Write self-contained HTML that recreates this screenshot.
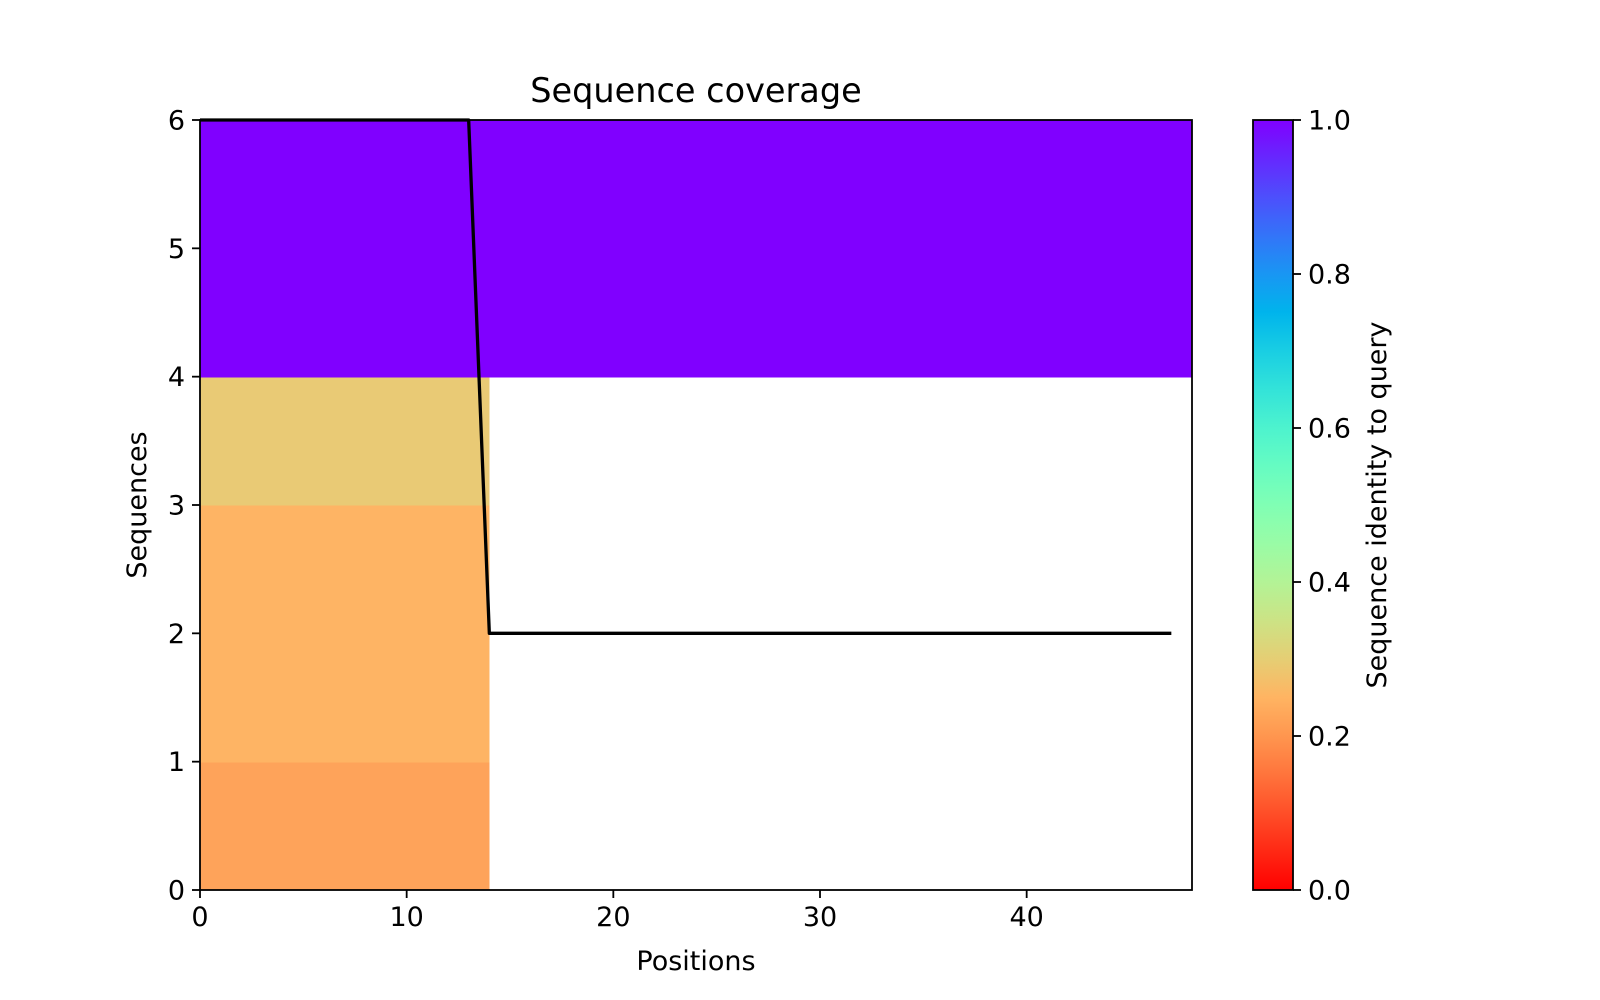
<!DOCTYPE html>
<html><head><meta charset="utf-8"><style>
html,body{margin:0;padding:0;background:#fff}
svg{display:block}
text{font-family:"DejaVu Sans","Liberation Sans",sans-serif;fill:#000}
</style></head><body>
<svg id="chart" width="1600" height="1000" viewBox="0 0 1600 1000" xmlns="http://www.w3.org/2000/svg">
<defs><linearGradient id="cbgrad" x1="0" y1="0" x2="0" y2="1"></linearGradient></defs>
<g id="plot"></g>
</svg>
<script>
// data
const rowStarts = [0, 1, 2, 3, 4, 5];
const rowEnds = [14, 14, 14, 14, 48, 48];
const rowIdentity = [0.21, 0.245, 0.245, 0.3, 1.0, 1.0];
const rowColors = ['#fea35a', '#feb464', '#feb464', '#e9ca75', '#8000ff', '#8000ff'];
const covX = [0, 13, 14, 47];
const covY = [6, 6, 2, 2];
const xTicks = [0, 10, 20, 30, 40];
const yTicks = [0, 1, 2, 3, 4, 5, 6];
const cbTicks = [0.0, 0.2, 0.4, 0.6, 0.8, 1.0];

const NS = 'http://www.w3.org/2000/svg';
const L = 200, R = 1192, T = 120, B = 890;
const xMin = 0, xMax = 48, yMin = 0, yMax = 6;
const xs = v => L + (v - xMin) / (xMax - xMin) * (R - L);
const ys = v => B - (v - yMin) / (yMax - yMin) * (B - T);
const CL = 1253, CR = 1293;
const cs = v => B - v * (B - T);
const FS = 27;
const g = document.getElementById('plot');
function mk(tag, attrs, parent) {
  const e = document.createElementNS(NS, tag);
  for (const k in attrs) e.setAttribute(k, attrs[k]);
  (parent || g).appendChild(e);
  return e;
}
rowStarts.forEach((s, i) => {
  const r = mk('rect', {x: xs(0), y: ys(s + 1), width: xs(rowEnds[i]) - xs(0), height: ys(s) - ys(s + 1) + 0.6, fill: rowColors[i], 'shape-rendering': 'crispEdges'});
  
  
});
const pl = mk('polyline', {points: covX.map((x, i) => xs(x) + ',' + ys(covY[i])).join(' '), fill: 'none', stroke: '#000', 'stroke-width': 3.3, 'stroke-linejoin': 'round'});


const fr = mk('rect', {x: L, y: T, width: R - L, height: B - T, fill: 'none', stroke: '#000', 'stroke-width': 1.8});


xTicks.forEach(v => {
  mk('line', {x1: xs(v), x2: xs(v), y1: B, y2: B + 8, stroke: '#000', 'stroke-width': 1.8});
  const t = mk('text', {x: xs(v), y: B + 36, 'font-size': FS, 'text-anchor': 'middle'});
  t.textContent = v;
  
  
});
yTicks.forEach(v => {
  mk('line', {x1: L - 8, x2: L, y1: ys(v), y2: ys(v), stroke: '#000', 'stroke-width': 1.8});
  const t = mk('text', {x: L - 15, y: ys(v) + 9.5, 'font-size': FS, 'text-anchor': 'end'});
  t.textContent = v;
  
  
});
const grad = document.getElementById('cbgrad');
for (let i = 0; i <= 20; i++) {
  const x = i / 20;
  const r = Math.min(1, Math.abs(2 * x - 0.5)), gg = Math.sin(Math.PI * x), b = Math.max(0, Math.cos(Math.PI * x / 2));
  mk('stop', {offset: x, 'stop-color': `rgb(${Math.round(r*255)},${Math.round(gg*255)},${Math.round(b*255)})`}, grad);
}
const cb = mk('rect', {x: CL, y: T, width: CR - CL, height: B - T, fill: 'url(#cbgrad)', stroke: '#000', 'stroke-width': 1.8});


cbTicks.forEach(v => {
  mk('line', {x1: CR, x2: CR + 8, y1: cs(v), y2: cs(v), stroke: '#000', 'stroke-width': 1.8});
  const t = mk('text', {x: CR + 15, y: cs(v) + 9.5, 'font-size': FS});
  t.textContent = v.toFixed(1);
  
  
});
let t = mk('text', {x: (L + R) / 2, y: 102, 'font-size': 33.5, 'text-anchor': 'middle'});
t.textContent = 'Sequence coverage';


t = mk('text', {x: (L + R) / 2, y: 970, 'font-size': FS, 'text-anchor': 'middle'});
t.textContent = 'Positions';


t = mk('text', {x: 0, y: 0, 'font-size': FS, 'text-anchor': 'middle', transform: `translate(146,${(T + B) / 2}) rotate(-90)`});
t.textContent = 'Sequences';


t = mk('text', {x: 0, y: 0, 'font-size': FS, 'text-anchor': 'middle', transform: `translate(1386,${(T + B) / 2}) rotate(-90)`});
t.textContent = 'Sequence identity to query';


</script>
</body></html>
